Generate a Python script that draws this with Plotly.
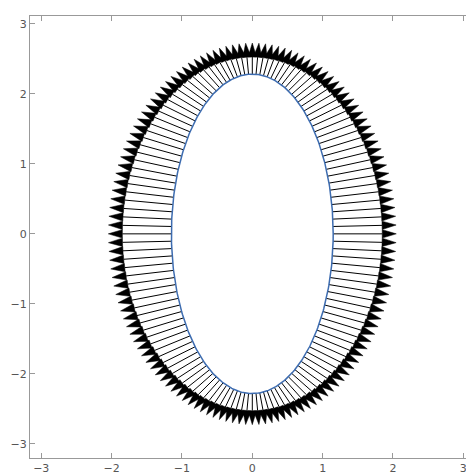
import numpy as np
import plotly.graph_objects as go

# ellipse x^2 + y^2/4 = const, arrows = scaled gradient
semi_x = 1.15
semi_y = 2.28
n_arrows = 136
scale = 0.39
head_len = 0.2
head_w = 0.06

t = np.linspace(0, 2 * np.pi, 400)
ex = semi_x * np.cos(t)
ey = semi_y * np.sin(t)

ta = np.linspace(0, 2 * np.pi, n_arrows, endpoint=False)
px = semi_x * np.cos(ta)
py = semi_y * np.sin(ta)
gx = scale * 2 * px
gy = scale * py / 2

lx, ly, hx, hy = [], [], [], []
for x0, y0, dx, dy in zip(px, py, gx, gy):
    L = np.hypot(dx, dy)
    ux, uy = dx / L, dy / L
    tipx, tipy = x0 + dx, y0 + dy
    bx, by = tipx - head_len * ux, tipy - head_len * uy
    lx += [x0, bx, None]
    ly += [y0, by, None]
    hx += [tipx, bx - head_w * uy, bx + head_w * uy, tipx, None]
    hy += [tipy, by + head_w * ux, by - head_w * ux, tipy, None]

fig = go.Figure()
fig.add_trace(go.Scatter(x=lx, y=ly, mode='lines', line=dict(color='black', width=1)))
fig.add_trace(go.Scatter(x=hx, y=hy, mode='lines', fill='toself', fillcolor='black',
                         line=dict(color='black', width=0.5)))
fig.add_trace(go.Scatter(x=ex, y=ey, mode='lines', line=dict(color='#3d6cb0', width=1.5)))

axis = dict(showgrid=False, zeroline=False, showline=True, linecolor='#999999', mirror='ticks',
            ticks='inside', ticklen=5, tickcolor='#999999', dtick=1, automargin=False,
            tickfont=dict(family='DejaVu Sans', size=11, color='#555555'))
fig.update_layout(width=474, height=473, showlegend=False, plot_bgcolor='white',
                  paper_bgcolor='white', margin=dict(l=22, r=6, t=8, b=23),
                  xaxis=dict(range=[-3.16, 3.18], **axis),
                  yaxis=dict(range=[-3.2, 3.11], **axis))
fig.write_html("out.html")
